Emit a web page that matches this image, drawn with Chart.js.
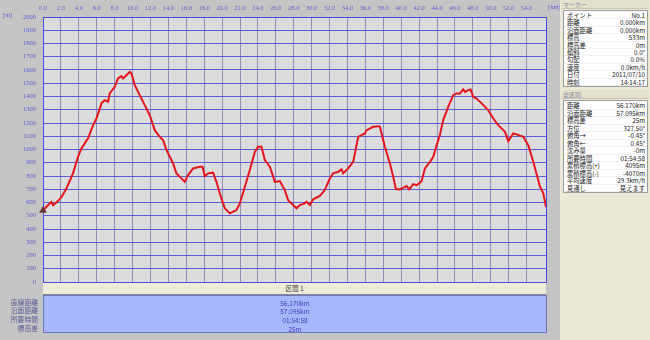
<!DOCTYPE html>
<html>
<head>
<meta charset="utf-8">
<script src="https://cdn.jsdelivr.net/npm/chart.js@4/dist/chart.umd.min.js"></script>
<style>
  body { margin: 0; background: #c4c4c4; }
  #wrap { position: relative; width: 650px; height: 340px; overflow: hidden; background: #c4c4c4;
          font-family: "Noto Sans CJK JP", sans-serif; }
  #chart { position: absolute; left: 0; top: 0; }
  .abs { position: absolute; white-space: nowrap; }
  #unitM { left: 3px; top: 11px; font: 6.5px "Liberation Serif"; color: #6060d4; }
  #unitKm { left: 548px; top: 3px; font: 6.5px "Liberation Serif"; color: #6060d4; }
  #sec { left: 43px; top: 283px; width: 503px; height: 11px; background: #efebd9;
         border-bottom: 1px solid #8a8a8a; font-size: 6.5px; line-height: 11px; text-align: center; color: #303040; }
  #band { left: 43px; top: 295px; width: 502px; height: 36px; background: #a7b7fe; border: 1px solid #6a78c0; }
  .bandRow { position: absolute; left: 0; width: 100%; text-align: center; font-size: 6.5px; color: #4040b0; }
  #side { left: 560px; top: 0; width: 90px; height: 340px; background: #ece9d8; }
  .hdr { position: absolute; left: 1px; width: 88px; height: 9px; background: #e2dfcc; border-bottom: 1px solid #c8c4b0;
         font-size: 6px; line-height: 9px; color: #8a8aa6; padding-left: 2px; box-sizing: border-box; }
  .box { position: absolute; left: 3px; width: 85px; background: #fff; border: 1px solid #9c9c9c; box-sizing: border-box; }
  .row { position: absolute; left: 0; width: 100%; font-size: 6.3px; color: #181818; border-bottom: 1px solid #f0f0f0; box-sizing: border-box; }
  .row .l { position: absolute; left: 3px; }
  .row .v { position: absolute; right: 2px; }
</style>
</head>
<body>
<div id="wrap">
  <canvas id="chart" width="560" height="340"></canvas>
  <div class="abs" id="unitM">[m]</div>
  <div class="abs" id="unitKm">[km]</div>
  <div class="abs" id="sec">区間 1</div>
  <div class="abs" id="band"></div>
  <div class="abs" id="side"></div>
</div>
<script>
// elevation profile
const distKm = [0, 0.38, 0.94, 1.12, 1.5, 2.06, 2.61, 3.35, 3.91, 4.29, 5.03, 5.59, 5.97, 6.53, 6.89, 7.26, 7.45,
  8.01, 8.38, 8.76, 8.94, 9.32, 9.69, 9.88, 10.25, 10.8, 11.36, 11.92, 12.48, 13.04, 13.41, 13.79, 14.53, 14.9,
  15.46, 15.83, 16.2, 16.76, 17.51, 17.81, 18.07, 18.44, 18.99, 19.37, 19.74, 20.3, 20.86, 21.61, 21.98, 22.54,
  23.1, 23.66, 24.02, 24.4, 24.77, 25.33, 25.89, 26.45, 27.0, 27.37, 27.93, 28.31, 28.68, 29.05, 29.43, 29.8,
  30.17, 30.92, 31.47, 32.03, 32.4, 32.96, 33.34, 33.52, 34.08, 34.64, 35.2, 35.58, 35.94, 36.13, 36.87, 37.43,
  37.62, 38.18, 38.74, 39.11, 39.41, 39.85, 40.6, 40.89, 41.34, 41.72, 42.09, 42.28, 42.65, 43.21, 43.58, 43.96,
  44.32, 44.69, 45.25, 45.81, 46.19, 46.56, 46.93, 47.12, 47.49, 47.75, 48.04, 48.42, 48.98, 49.72, 50.28,
  50.84, 51.59, 51.96, 52.51, 52.89, 53.63, 54.19, 54.75, 55.5, 55.87, 56.17];
const elevM = [540, 568, 605, 580, 600, 640, 705, 820, 945, 1008, 1084, 1184, 1234, 1348, 1372, 1360, 1423,
  1473, 1536, 1553, 1536, 1561, 1586, 1574, 1486, 1410, 1335, 1259, 1146, 1096, 1071, 995, 895, 820,
  782, 756, 807, 857, 870, 870, 799, 820, 825, 756, 669, 556, 518, 543, 593, 719,
  845, 983, 1020, 1020, 920, 870, 756, 762, 694, 618, 581, 556, 581, 588, 605, 581,
  624, 649, 694, 782, 820, 832, 850, 820, 857, 907, 1096, 1109, 1121, 1146, 1171, 1176,
  1171, 1020, 895, 794, 701, 699, 724, 699, 739, 731, 749, 762, 857, 907, 945, 1033,
  1109, 1222, 1322, 1410, 1423, 1423, 1453, 1435, 1448, 1453, 1397, 1385, 1348, 1297, 1234,
  1184, 1133, 1063, 1121, 1114, 1096, 1033, 907, 719, 669, 565];

const xTicks = [0, 2, 4, 6, 8, 10, 12, 14, 16, 18, 20, 22, 24, 26, 28, 30, 32, 34, 36, 38, 40, 42, 44, 46, 48, 50, 52, 54];
const yTicks = [0, 100, 200, 300, 400, 500, 600, 700, 800, 900, 1000, 1100, 1200, 1300, 1400, 1500, 1600, 1700, 1800, 1900, 2000];

// side panel texts
const markerLabels = ['ポイント', '距離', '沿面距離', '標高', '標高差', '傾斜', '勾配', '速度', '日付', '時刻'];
const markerValues = ['No.1', '0.000km', '0.000km', '533m', '0m', '0.0°', '0.0%', '0.0km/h', '2011/07/10', '14:14:17'];
const totalLabels = ['距離', '沿面距離', '標高差', '方位', '俯角→', '俯角←', '沈み量', '所要時間', '累積標高(+)', '累積標高(-)', '平均速度', '見通し'];
const totalValues = ['56.170km', '57.095km', '25m', '327.50°', '-0.45°', '0.45°', '-0m', '01:54:58', '4095m', '-4070m', '29.3km/h', '見えます'];

// section summary under the chart
const sectionLabels = ['直線距離', '沿面距離', '所要時間', '標高差'];
const sectionValues = ['56.170km', '57.095km', '01:54:58', '25m'];

const plotFrame = {
  id: 'plotFrame',
  beforeDraw(chart) {
    const a = chart.chartArea, c = chart.ctx;
    c.save();
    c.fillStyle = '#dcdcdc';
    c.fillRect(a.left, a.top, a.right - a.left, a.bottom - a.top);
    c.restore();
  },
  afterDraw(chart) {
    const a = chart.chartArea, c = chart.ctx;
    c.save();
    c.strokeStyle = '#4a4ae0';
    c.lineWidth = 1;
    c.beginPath();
    c.moveTo(a.right + 0.5, a.top);
    c.lineTo(a.right + 0.5, a.bottom + 0.5);
    c.lineTo(a.left, a.bottom + 0.5);
    c.stroke();
    c.restore();
  }
};

new Chart(document.getElementById('chart'), {
  type: 'line',
  data: {
    datasets: [{
      data: distKm.map((d, i) => ({ x: d, y: elevM[i] })),
      borderColor: '#e4141c',
      borderWidth: 2,
      pointRadius: ctx => ctx.dataIndex === 0 ? 2.5 : 0,
      pointStyle: 'triangle',
      pointBackgroundColor: '#6a3a3a',
      pointBorderColor: '#6a3a3a',
      tension: 0,
      clip: 4
    }]
  },
  options: {
    responsive: false,
    animation: false,
    layout: { padding: { left: 0, top: 0, right: 14, bottom: 58 } },
    plugins: { legend: { display: false }, tooltip: { enabled: false } },
    scales: {
      x: {
        type: 'linear',
        position: 'top',
        min: 0,
        max: 56.17,
        afterBuildTicks: s => { s.ticks = xTicks.map(v => ({ value: v })); },
        afterFit: s => { s.height = 17; },
        grid: { color: '#8e8eba', drawTicks: false },
        border: { color: '#4a4ae0' },
        ticks: {
          autoSkip: false, maxRotation: 0, padding: 5,
          color: '#6060d4', font: { size: 6.5, family: 'Liberation Serif' },
          callback: v => v.toFixed(1)
        }
      },
      y: {
        min: 0,
        max: 2000,
        afterBuildTicks: s => { s.ticks = yTicks.map(v => ({ value: v })); },
        afterFit: s => { s.width = 43; },
        grid: { color: '#5c5cd4', drawTicks: false },
        border: { color: '#4a4ae0' },
        ticks: {
          padding: 7, color: '#6060d4', font: { size: 6.5, family: 'Liberation Serif' },
          callback: v => String(v)
        }
      }
    }
  },
  plugins: [plotFrame]
});

// bottom summary band
const band = document.getElementById('band');
const wrap = document.getElementById('wrap');
const bandY = [1.5, 10, 19, 28];
sectionValues.forEach((v, i) => {
  const d = document.createElement('div');
  d.className = 'bandRow';
  d.style.top = bandY[i] + 'px';
  d.textContent = v;
  band.appendChild(d);
  const l = document.createElement('div');
  l.className = 'abs';
  l.style.cssText = 'right:612px;font-size:6.8px;color:#5a5a98;top:' + (295 + bandY[i]) + 'px';
  l.textContent = sectionLabels[i];
  wrap.appendChild(l);
});

// right side panel
const side = document.getElementById('side');
function addBlock(title, top, labels, values, rowH) {
  const h = document.createElement('div');
  h.className = 'hdr';
  h.style.top = top + 'px';
  h.textContent = title;
  side.appendChild(h);
  const b = document.createElement('div');
  b.className = 'box';
  b.style.top = (top + 10) + 'px';
  b.style.height = (labels.length * rowH + 3) + 'px';
  labels.forEach((lab, i) => {
    const r = document.createElement('div');
    r.className = 'row';
    r.style.top = (1 + i * rowH) + 'px';
    r.style.height = rowH + 'px';
    r.style.lineHeight = rowH + 'px';
    r.innerHTML = '<span class="l"></span><span class="v"></span>';
    r.children[0].textContent = lab;
    r.children[1].textContent = values[i];
    b.appendChild(r);
  });
  side.appendChild(b);
}
addBlock('マーカー', 0, markerLabels, markerValues, 7.4);
addBlock('全区間', 90, totalLabels, totalValues, 7.5);
</script>
</body>
</html>
